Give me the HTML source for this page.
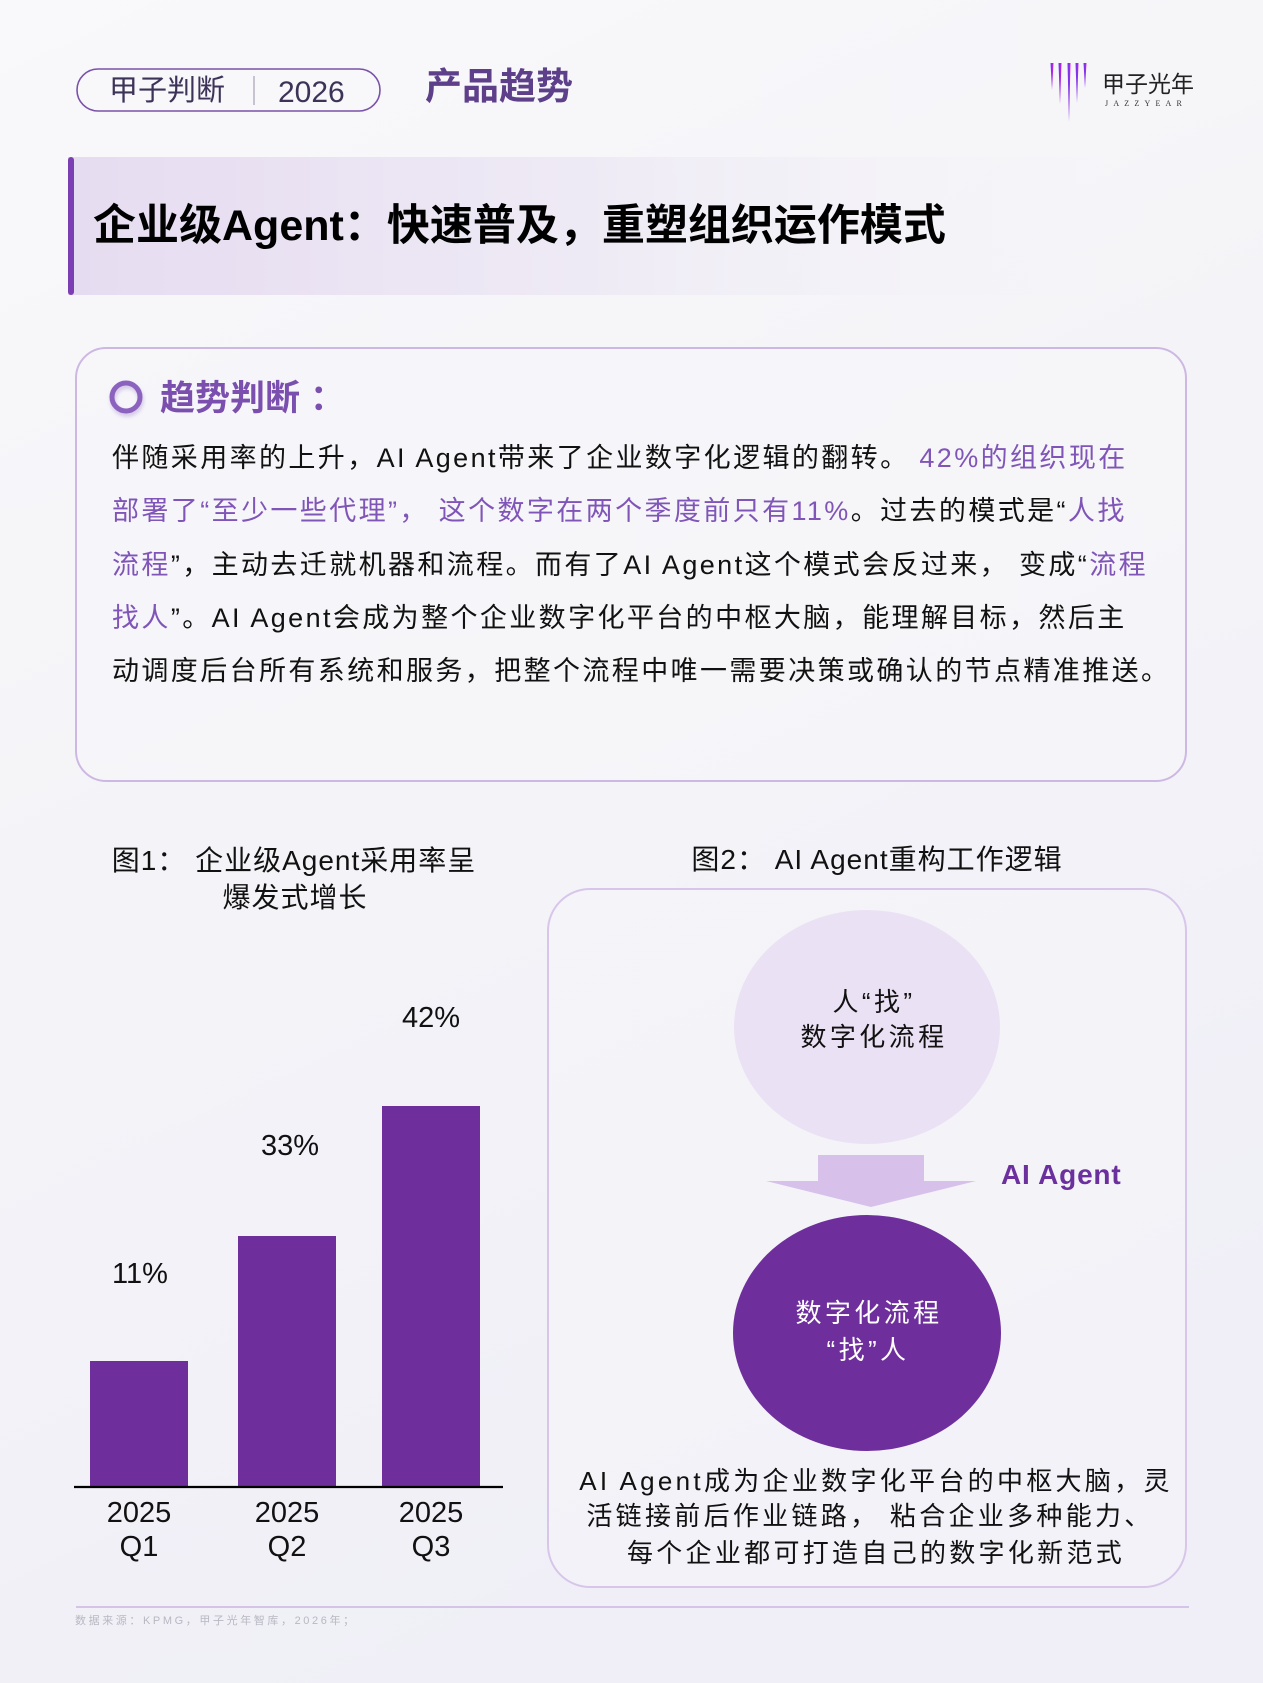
<!DOCTYPE html>
<html><head><meta charset="utf-8">
<style>
html,body{margin:0;padding:0;}
body{width:1263px;height:1683px;overflow:hidden;background:#f5f5f9;}
svg{display:block;}
text{font-family:"Liberation Sans","Noto Sans CJK SC",sans-serif;}
</style></head>
<body>
<svg width="1263" height="1683" viewBox="0 0 1263 1683" xmlns="http://www.w3.org/2000/svg">
<defs>
  <linearGradient id="bg" x1="0" y1="0" x2="0.35" y2="1">
    <stop offset="0" stop-color="#f9f9fb"/>
    <stop offset="0.5" stop-color="#f4f4f8"/>
    <stop offset="1" stop-color="#f0eff7"/>
  </linearGradient>
  <linearGradient id="banner" x1="0" y1="0" x2="1" y2="0">
    <stop offset="0" stop-color="#e6dcf1"/>
    <stop offset="0.45" stop-color="#eeeaf5"/>
    <stop offset="1" stop-color="#f6f6f9" stop-opacity="0"/>
  </linearGradient>
  <linearGradient id="logo" x1="0" y1="0" x2="1" y2="0">
    <stop offset="0" stop-color="#5a3cf0"/>
    <stop offset="1" stop-color="#d21ee0"/>
  </linearGradient>
  <filter id="sh" x="-50%" y="-50%" width="200%" height="200%">
    <feDropShadow dx="1" dy="3" stdDeviation="2" flood-color="#8c62bf" flood-opacity="0.35"/>
  </filter>
</defs>
<rect x="0" y="0" width="1263" height="1683" fill="url(#bg)"/>

<!-- Header pill -->
<rect x="77" y="69" width="303" height="42" rx="21" ry="21" fill="none" stroke="#7a52a8" stroke-width="1.6"/>
<text x="109" y="100" font-size="29" fill="#3d3358">甲子判断</text>
<line x1="254" y1="76" x2="254" y2="105" stroke="#a8a0b4" stroke-width="1.2"/>
<text x="278" y="102" font-size="30" fill="#3d3358">2026</text>
<text x="425" y="99" font-size="37" font-weight="700" fill="#5d3f8a">产品趋势</text>

<!-- Logo -->
<g fill="url(#logo)">
  <polygon points="1050.5,63 1053.5,63 1052,90"/>
  <polygon points="1058.5,63 1061.5,63 1060,104"/>
  <polygon points="1067.5,63 1070.5,63 1069,122"/>
  <polygon points="1075.5,63 1078.5,63 1077,103"/>
  <polygon points="1083.5,63 1086.5,63 1085,88"/>
</g>
<text x="1102" y="92" font-size="23" fill="#222">甲子光年</text>
<text x="1105" y="106" font-size="8" letter-spacing="5.2" fill="#333" style="font-family:'Liberation Serif',serif">JAZZYEAR</text>

<!-- Title banner -->
<rect x="68" y="157" width="1140" height="138" fill="url(#banner)"/>
<rect x="68" y="157" width="6" height="138" rx="3" fill="#7b3fb3"/>
<text x="93" y="240" font-size="43" font-weight="700" fill="#000">企业级Agent：快速普及，重塑组织运作模式</text>

<!-- Trend box -->
<rect x="76" y="348" width="1110" height="433" rx="30" ry="30" fill="#f7f6fa" fill-opacity="0.6" stroke="#cdb8e3" stroke-width="2"/>
<circle cx="126" cy="397" r="14" fill="none" stroke="#8c62bf" stroke-width="5" filter="url(#sh)"/>
<text x="160" y="410" font-size="35" font-weight="700" fill="#7b4fae">趋势判断<tspan dx="10">：</tspan></text>

<g font-size="27" letter-spacing="2.4" fill="#111">
  <text x="112" y="467">伴随采用率的上升，AI Agent带来了企业数字化逻辑的翻转。 <tspan fill="#8055b8">42%的组织现在</tspan></text>
  <text x="112" y="520"><tspan fill="#8055b8">部署了“至少一些代理”， 这个数字在两个季度前只有11%</tspan>。过去的模式是“<tspan fill="#8055b8">人找</tspan></text>
  <text x="112" y="574"><tspan fill="#8055b8">流程</tspan>”，主动去迁就机器和流程。而有了AI Agent这个模式会反过来， 变成“<tspan fill="#8055b8">流程</tspan></text>
  <text x="112" y="627"><tspan fill="#8055b8">找人</tspan>”。AI Agent会成为整个企业数字化平台的中枢大脑，能理解目标，然后主</text>
  <text x="112" y="680">动调度后台所有系统和服务，把整个流程中唯一需要决策或确认的节点精准推送。</text>
</g>

<!-- Figure 1 -->
<g font-size="28" letter-spacing="1" fill="#111" text-anchor="middle">
  <text x="294" y="870">图1： 企业级Agent采用率呈</text>
  <text x="295" y="907">爆发式增长</text>
</g>
<g fill="#6e2f9c">
  <rect x="90" y="1361" width="98" height="126"/>
  <rect x="238" y="1236" width="98" height="251"/>
  <rect x="382" y="1106" width="98" height="381"/>
</g>
<line x1="74" y1="1487" x2="503" y2="1487" stroke="#000" stroke-width="2.2"/>
<g font-size="29" fill="#111" text-anchor="middle">
  <text x="140" y="1283">11%</text>
  <text x="290" y="1155">33%</text>
  <text x="431" y="1027">42%</text>
  <text x="139" y="1522">2025</text>
  <text x="139" y="1556">Q1</text>
  <text x="287" y="1522">2025</text>
  <text x="287" y="1556">Q2</text>
  <text x="431" y="1522">2025</text>
  <text x="431" y="1556">Q3</text>
</g>

<!-- Figure 2 -->
<text x="877" y="869" font-size="28" letter-spacing="1" fill="#111" text-anchor="middle">图2： AI Agent重构工作逻辑</text>
<rect x="548" y="889" width="638" height="698" rx="42" ry="42" fill="#f5f5f9" fill-opacity="0.5" stroke="#d8c6ea" stroke-width="2"/>
<ellipse cx="867" cy="1027" rx="133" ry="117" fill="#ebe1f4"/>
<g font-size="26" letter-spacing="3.4" fill="#111" text-anchor="middle">
  <text x="874" y="1011">人“找”</text>
  <text x="874" y="1046">数字化流程</text>
</g>
<polygon points="818,1155 924,1155 924,1181 976,1181 871,1207 766,1181 818,1181" fill="#d7c1ea"/>
<text x="1001" y="1184" font-size="28" font-weight="700" letter-spacing="0.8" fill="#6b2f9e">AI Agent</text>
<ellipse cx="867" cy="1333" rx="134" ry="118" fill="#6e2f9c"/>
<g font-size="26" letter-spacing="3.4" fill="#fff" text-anchor="middle">
  <text x="869" y="1322">数字化流程</text>
  <text x="868" y="1359">“找”人</text>
</g>
<g font-size="26" letter-spacing="3.3" fill="#111" text-anchor="middle">
  <text x="876" y="1490">AI Agent成为企业数字化平台的中枢大脑，灵</text>
  <text x="870" y="1525">活链接前后作业链路， 粘合企业多种能力、</text>
  <text x="876" y="1562">每个企业都可打造自己的数字化新范式</text>
</g>

<!-- Footer -->
<line x1="76" y1="1607" x2="1189" y2="1607" stroke="#d5c3e8" stroke-width="2"/>
<text x="75" y="1624" font-size="11" letter-spacing="2.6" fill="#b8b8c2">数据来源：KPMG，甲子光年智库，2026年；</text>
</svg>
</body></html>
